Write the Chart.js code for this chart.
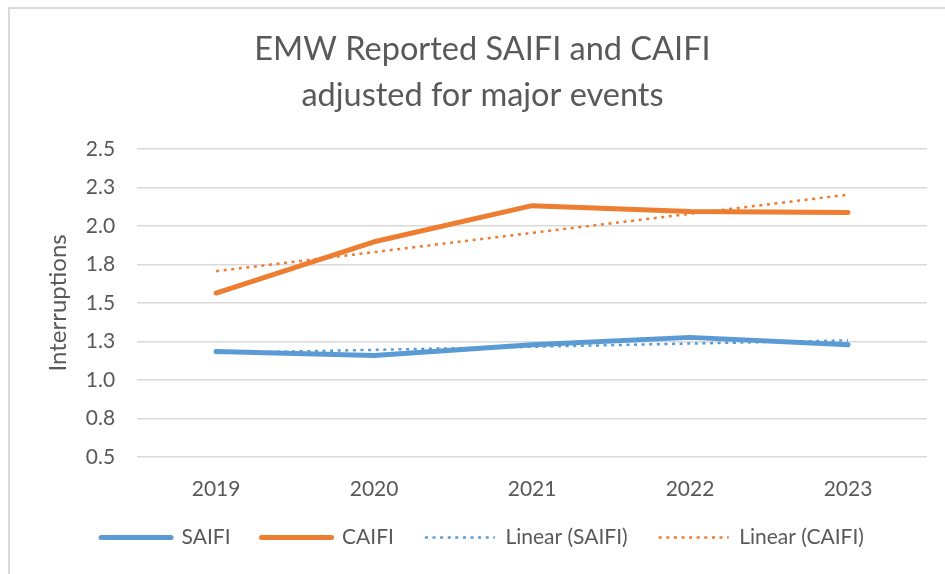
<!DOCTYPE html>
<html>
<head>
<meta charset="utf-8">
<script src="https://cdn.jsdelivr.net/npm/chart.js@4"></script>
<style>
  html, body { margin: 0; padding: 0; background: #fff; overflow: hidden; }
  #wrap { position: relative; width: 945px; height: 574px; }
  #frame { position: absolute; left: 8px; top: 7px; width: 1000px; height: 600px;
           border-left: 2px solid #d9d9d9; border-top: 2px solid #d9d9d9; }
  canvas { position: absolute; left: 0; top: 0; }
</style>
</head>
<body>
<div id="wrap">
  <div id="frame"></div>
  <canvas id="myChart" width="945" height="574"></canvas>
</div>
<script>
const years = ['2019', '2020', '2021', '2022', '2023'];
const saifi = [1.184, 1.158, 1.228, 1.276, 1.228];
const caifi = [1.564, 1.897, 2.132, 2.094, 2.087];
const linearSaifi = [1.174, 1.195, 1.215, 1.236, 1.256];
const linearCaifi = [1.706, 1.830, 1.955, 2.079, 2.203];

const BLUE = '#5B9BD5';
const ORANGE = '#ED7D31';
const TEXT = '#595959';
const FONT = 'Lato, "Open Sans", sans-serif';

const ctx = document.getElementById('myChart');

// legend swatches: take width / dash / cap from the dataset line, not the point
function legendLabels(chart) {
    const items = Chart.defaults.plugins.legend.labels.generateLabels(chart);
    items.forEach(item => {
        const ds = chart.data.datasets[item.datasetIndex];
        item.lineWidth = ds.borderWidth;
        item.lineDash = ds.borderDash || [];
        item.lineCap = ds.borderCapStyle || 'butt';
        item.strokeStyle = ds.borderColor;
        item.fillStyle = ds.borderColor;
    });
    return items;
}

new Chart(ctx, {
    type: 'line',
    data: {
        labels: years,
        datasets: [
            {
                label: 'SAIFI',
                data: saifi,
                borderWidth: 5,
                borderColor: BLUE,
                backgroundColor: BLUE,
                borderCapStyle: 'round',
                borderJoinStyle: 'round',
                pointRadius: 0,
                order: 3,
            },
            {
                label: 'CAIFI',
                data: caifi,
                borderWidth: 5,
                borderColor: ORANGE,
                backgroundColor: ORANGE,
                borderCapStyle: 'round',
                borderJoinStyle: 'round',
                pointRadius: 0,
                order: 2,
            },
            {
                label: 'Linear (SAIFI)',
                data: linearSaifi,
                borderWidth: 2.5,
                borderDash: [3, 4.6],
                borderColor: BLUE,
                backgroundColor: BLUE,
                pointRadius: 0,
                order: 1,
            },
            {
                label: 'Linear (CAIFI)',
                data: linearCaifi,
                borderWidth: 2.5,
                borderDash: [3, 4.6],
                borderColor: ORANGE,
                backgroundColor: ORANGE,
                pointRadius: 0,
                order: 0,
            }
        ]
    },
    options: {
        responsive: false,
        animation: false,
        layout: {
            padding: { left: 38, right: 18, top: 0, bottom: 16 }
        },
        plugins: {
            legend: {
                position: 'bottom',
                labels: {
                    usePointStyle: true,
                    pointStyle: 'line',
                    pointStyleWidth: 70,
                    boxHeight: 21,
                    padding: 31,
                    color: TEXT,
                    font: { family: FONT, size: 21 },
                    sort: (a, b) => a.datasetIndex - b.datasetIndex,
                    generateLabels: legendLabels,
                },
            },
            title: {
                display: true,
                text: ['EMW Reported SAIFI and CAIFI', 'adjusted for major events'],
                color: TEXT,
                font: { family: FONT, size: 32.5, weight: 'normal', lineHeight: 46 / 32.5 },
                padding: { top: 27, bottom: 30 },
            },
            tooltip: { enabled: false },
        },
        scales: {
            x: {
                offset: true,
                grid: { display: false, drawTicks: false },
                border: { display: false },
                ticks: {
                    color: TEXT,
                    padding: 20,
                    font: { family: FONT, size: 21 },
                },
                afterFit: (scale) => { scale.height = scale.height - 26; },
            },
            y: {
                min: 0.5,
                max: 2.5,
                grid: { color: '#d9d9d9', lineWidth: 1.5, drawTicks: false },
                border: { display: false },
                ticks: {
                    stepSize: 0.25,
                    color: TEXT,
                    padding: 22,
                    font: { family: FONT, size: 21 },
                    callback: (v) => Number(v).toFixed(1),
                },
                title: {
                    display: true,
                    text: 'Interruptions',
                    color: TEXT,
                    font: { family: FONT, size: 24 },
                    padding: { top: 6, bottom: 8 },
                },
                afterFit: (scale) => { scale.width = scale.width - 17; },
            }
        }
    }
});
</script>
</body>
</html>
